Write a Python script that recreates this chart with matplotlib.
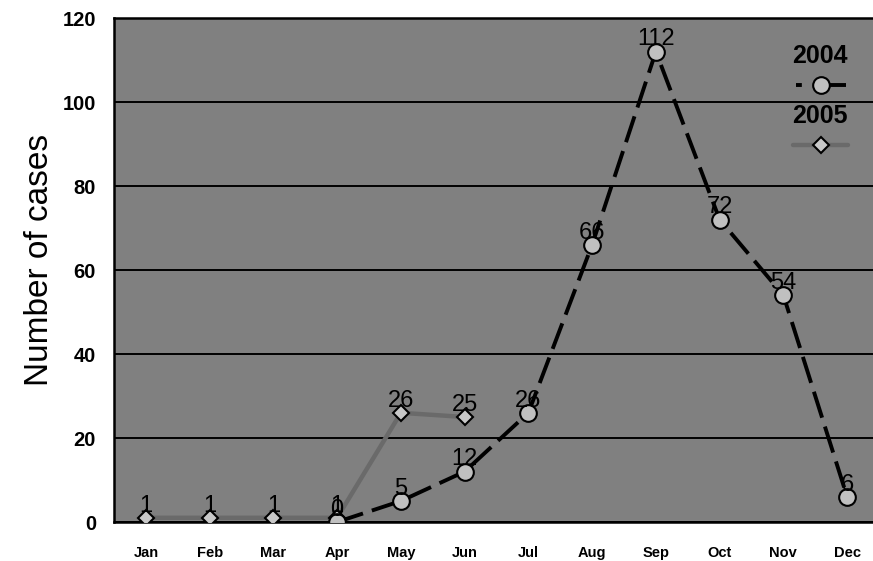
import matplotlib
matplotlib.use("Agg")
import matplotlib.pyplot as plt
import numpy as np

months = ["Jan", "Feb", "Mar", "Apr", "May", "Jun", "Jul", "Aug", "Sep", "Oct", "Nov", "Dec"]
cases_2004 = [None, None, None, 0, 5, 12, 26, 66, 112, 72, 54, 6]
cases_2005 = [1, 1, 1, 1, 26, 25, None, None, None, None, None, None]
y_ticks = [0, 20, 40, 60, 80, 100, 120]

plt.rcParams["font.family"] = ["Liberation Sans", "DejaVu Sans"]

W, H = 873, 561
fig = plt.figure(figsize=(W / 100, H / 100), dpi=100)
left, bottom, top, right = 114, 522, 18, 879
ax = fig.add_axes([left / W, (H - bottom) / H, (right - left) / W, (bottom - top) / H])
ax.set_facecolor("#808080")

x = np.arange(len(months))

def series(vals):
    xs = [i for i, v in enumerate(vals) if v is not None]
    ys = [v for v in vals if v is not None]
    return np.array(xs), np.array(ys)

x05, y05 = series(cases_2005)
x04, y04 = series(cases_2004)

ax.plot(x05, y05, color="#6a6a6a", lw=3.2, marker="D", ms=8.5,
        mfc="#c8c8c8", mec="black", mew=1.5, zorder=3)
ax.plot(x04, y04, color="black", lw=2.8, dashes=(7, 2.4), marker="o", ms=12,
        mfc="#c0c0c0", mec="black", mew=1.5, zorder=4)

for xs, ys in ((x05, y05), (x04, y04)):
    for xi, yi in zip(xs, ys):
        ax.annotate(f"{yi}", (xi, yi), xytext=(0, 4.5), textcoords="offset points",
                    ha="center", va="baseline", fontsize=17, zorder=5)

ax.set_xlim(-0.5, 11.5)
ax.set_ylim(0, 120)
ax.set_yticks(y_ticks)
ax.set_xticks(x)
ax.set_xticklabels(months, fontsize=10.5, fontweight="bold")
ax.set_yticklabels([str(t) for t in y_ticks], fontsize=14.5, fontweight="bold")
ax.tick_params(axis="both", length=0)
ax.tick_params(axis="x", pad=17)
ax.tick_params(axis="y", pad=13)
ax.yaxis.grid(True, color="black", lw=1.4)
ax.set_axisbelow(True)
for side in ["left", "top", "bottom"]:
    ax.spines[side].set_linewidth(1.8)
    ax.spines[side].set_color("black")
ax.spines["right"].set_visible(False)
fig.text(40 / W, 1 - 260 / H, "Number of cases", rotation=90, ha="center",
         va="center", fontsize=24)

# legend drawn in axes coordinates
def ax_pt(px, py):
    return (px - left) / (right - left), (bottom - py) / (bottom - top)

tx, ty = ax_pt(820, 56)
ax.text(tx, ty, "2004", transform=ax.transAxes, ha="center", va="center",
        fontsize=18, fontweight="bold")
(x0, yl), (x1, _) = ax_pt(796, 85), ax_pt(846, 85)
ax.plot([x0, x1], [yl, yl], transform=ax.transAxes, color="black", lw=2.8,
        dashes=(1.5, 3.0, 30, 1), clip_on=False)
ax.plot([(x0 + x1) / 2], [yl], transform=ax.transAxes, marker="o", ms=12,
        mfc="#c0c0c0", mec="black", mew=1.5, ls="none")

tx, ty = ax_pt(820, 116)
ax.text(tx, ty, "2005", transform=ax.transAxes, ha="center", va="center",
        fontsize=18, fontweight="bold")
(x0, yl), (x1, _) = ax_pt(793, 145), ax_pt(848, 145)
ax.plot([x0, x1], [yl, yl], transform=ax.transAxes, color="#6a6a6a", lw=3.2,
        solid_capstyle="round")
ax.plot([(x0 + x1) / 2], [yl], transform=ax.transAxes, marker="D", ms=8.5,
        mfc="#c8c8c8", mec="black", mew=1.5, ls="none")

fig.savefig("out.png", dpi=100, facecolor="white")
